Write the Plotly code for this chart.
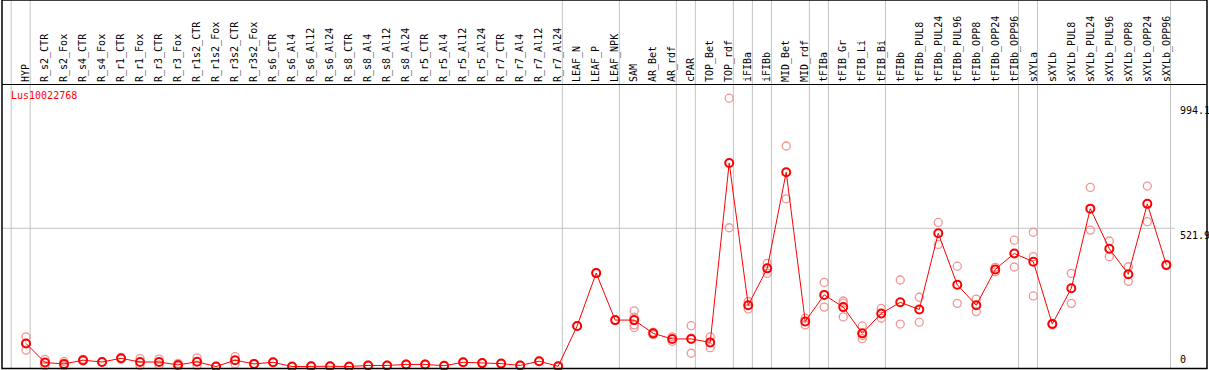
import plotly.graph_objects as go

categories = [
    "HYP", "R_s2_CTR", "R_s2_Fox", "R_s4_CTR", "R_s4_Fox", "R_r1_CTR", "R_r1_Fox",
    "R_r3_CTR", "R_r3_Fox", "R_r1s2_CTR", "R_r1s2_Fox", "R_r3s2_CTR", "R_r3s2_Fox",
    "R_s6_CTR", "R_s6_Al4", "R_s6_Al12", "R_s6_Al24", "R_s8_CTR", "R_s8_Al4",
    "R_s8_Al12", "R_s8_Al24", "R_r5_CTR", "R_r5_Al4", "R_r5_Al12", "R_r5_Al24",
    "R_r7_CTR", "R_r7_Al4", "R_r7_Al12", "R_r7_Al24", "LEAF_N", "LEAF_P", "LEAF_NPK",
    "SAM", "AR_Bet", "AR_rdf", "cPAR", "TOP_Bet", "TOP_rdf", "iFIBa", "iFIBb",
    "MID_Bet", "MID_rdf", "tFIBa", "tFIB_Gr", "tFIB_Li", "tFIB_Bi", "tFIBb",
    "tFIBb_PUL8", "tFIBb_PUL24", "tFIBb_PUL96", "tFIBb_OPP8", "tFIBb_OPP24",
    "tFIBb_OPP96", "sXYLa", "sXYLb", "sXYLb_PUL8", "sXYLb_PUL24", "sXYLb_PUL96",
    "sXYLb_OPP8", "sXYLb_OPP24", "sXYLb_OPP96",
]

mean_values = [
    88, 16, 11, 25, 18, 32, 18, 18, 7, 19, 1, 25, 11, 17, 1, 2, 2, 1, 5, 5, 9, 9, 4,
    17, 14, 12, 5, 21, 2, 154, 353, 176, 176, 126, 105, 105, 92, 768, 232, 371, 733,
    171, 271, 225, 126, 201, 243, 216, 503, 309, 232, 367, 427, 396, 161, 296, 596,
    445, 349, 614, 384,
]

rep_a = [
    113, 28, 20, 28, 19, 35, 31, 29, 13, 34, 2, 38, 12, 18, 1, 3, 3, 1, 6, 6, 10, 10, 5,
    18, 15, 13, 6, 22, 3, 155, 354, 177, 211, 131, 113, 155, 113, 1012, 246, 390, 832,
    183, 318, 248, 154, 220, 327, 262, 544, 379, 255, 375, 477, 507, 164, 352, 676,
    474, 377, 681, 386,
]
rep_b = [
    88, 4, 3, 22, 17, 29, 5, 7, 1, 5, 0, 11, 10, 16, 0, 1, 1, 0, 5, 5, 9, 9, 3,
    16, 13, 11, 5, 20, 1, 153, 352, 175, 187, 121, 96, 108, 72, 524, 218, 352, 633,
    158, 225, 240, 118, 200, 161, 168, 461, 239, 208, 358, 376, 415, 158, 239, 515,
    415, 322, 547, 381,
]
rep_c = [
    63, None, None, None, None, None, None, None, None, None, None, None, None, None,
    None, None, None, None, None, None, None, None, None, None, None, None, None, None,
    None, None, None, None, 158, None, None, 51, None, None, None, None, None, None,
    None, 188, 106, 183, None, None, None, None, None, None, None, 267, None, None,
    None, None, None, None, None,
]
rep_d = [None] * 32 + [148] + [None] * 28

# index of the last category in each group (vertical separators follow them)
group_ends = [-1, 0, 28, 31, 34, 35, 37, 38, 39, 41, 42, 45, 52, 53, 60]
y_ticks = [0, 521.9, 994.1]
y_tick_text = ["0", "521.9", "994.1"]
gene_id = "Lus10022768"

x_pos = list(range(len(categories)))
mono = "DejaVu Sans Mono"
rep_color = "#F29595"
mean_color = "#FF0000"
grid_color = "#C4C4C4"

fig = go.Figure()

for reps in (rep_a, rep_b, rep_c, rep_d):
    fig.add_trace(go.Scatter(
        x=x_pos, y=reps, mode="markers",
        marker=dict(symbol="circle-open", size=8, color=rep_color, line=dict(width=1.3, color=rep_color)),
        hoverinfo="skip", showlegend=False, cliponaxis=False,
    ))

fig.add_trace(go.Scatter(
    x=x_pos, y=mean_values, mode="lines+markers",
    line=dict(color=mean_color, width=1),
    marker=dict(symbol="circle-open", size=8, color=mean_color, line=dict(width=2, color=mean_color)),
    showlegend=False, cliponaxis=False,
))

shapes = []
for e in group_ends:
    shapes.append(dict(type="line", xref="x", yref="paper", x0=e + 0.22, x1=e + 0.22,
                       y0=0, y1=1.31, line=dict(color=grid_color, width=1), layer="below"))
shapes.append(dict(type="line", xref="paper", yref="y", x0=0, x1=0.973,
                   y0=y_ticks[1], y1=y_ticks[1], line=dict(color=grid_color, width=1), layer="below"))
# outer frame (covers label band and plot)
shapes.append(dict(type="rect", xref="paper", yref="paper", x0=0, x1=1, y0=-0.002, y1=1.3,
                   line=dict(color="black", width=1.5), layer="above"))

annotations = []
for v, t in zip(y_ticks, y_tick_text):
    annotations.append(dict(
        x=0.976, xref="paper", y=v, yref="y", text=t, showarrow=False,
        xanchor="left", yanchor="bottom" if v == 0 else "top",
        font=dict(family=mono, size=10, color="black"),
    ))
annotations.append(dict(
    x=0.006, xref="paper", y=0.99, yref="paper", text=gene_id, showarrow=False,
    xanchor="left", yanchor="top", font=dict(family=mono, size=10, color=mean_color),
))

fig.update_layout(
    width=1209, height=370,
    margin=dict(l=2, r=2, t=85, b=2, pad=0),
    paper_bgcolor="white", plot_bgcolor="white",
    shapes=shapes, annotations=annotations,
    xaxis=dict(
        range=[-1.263, 62.14], tickvals=x_pos, ticktext=categories, side="top",
        tickangle=-90, tickfont=dict(family=mono, size=10, color="black"),
        showgrid=False, zeroline=False, showline=True, linecolor="black", linewidth=1,
        ticks="", fixedrange=True,
    ),
    yaxis=dict(
        range=[-4.5, 1061.8], showgrid=False, zeroline=False, showticklabels=False,
        showline=False, fixedrange=True,
    ),
)

fig.write_html("out.html", config={"displayModeBar": False},
               post_script="document.body.style.margin='0';")
